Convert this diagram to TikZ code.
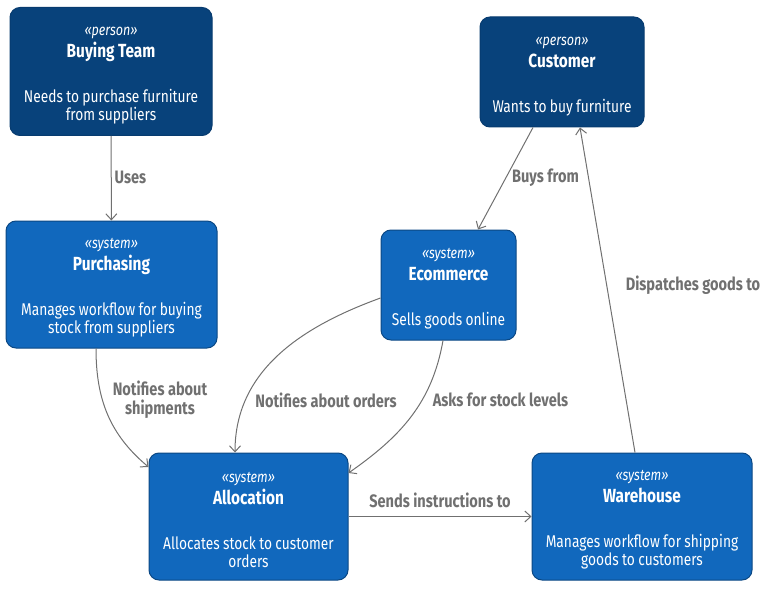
\documentclass[tikz,border=0pt]{standalone}
\usepackage{fontspec}
\setmainfont{Fira Sans}[FakeStretch=0.81]
\usepackage{xcolor}
\usepackage{tikz}
\usetikzlibrary{arrows.meta}

\definecolor{persblue}{HTML}{08427B}
\definecolor{persedge}{HTML}{073B6F}
\definecolor{sysblue}{HTML}{1168BD}
\definecolor{sysedge}{HTML}{0B4884}
\definecolor{relgray}{HTML}{707070}

% stereotype, title, description
\newcommand{\cfourtext}[3]{%
  {\fontsize{15.5}{18}\itshape\selectfont\rule{0pt}{17pt}«#1»\par}%
  {\fontsize{19}{22}\bfseries\selectfont #2\par}%
  \vspace{27pt}%
  {\fontsize{17}{18}\selectfont #3\par}}

\tikzset{
  cbox/.style={rounded corners=10pt, line width=1pt, text=white,
    align=center, inner sep=0pt},
  personbox/.style={cbox, fill=persblue, draw=persedge},
  systembox/.style={cbox, fill=sysblue, draw=sysedge},
  rel/.style={draw=relgray, line width=1pt,
    -{Straight Barb[length=6pt,width=11pt]}},
  rellabel/.style={text=relgray, align=center,
    font=\fontsize{18}{19}\bfseries\selectfont}
}

\begin{document}
\begin{tikzpicture}[x=1pt,y=1pt]
  \useasboundingbox (0,0) rectangle (773,590);

  % people and systems
  \node[personbox, minimum width=202pt, minimum height=128pt, text width=196pt]
    (buy) at (111,518.5)
    {\cfourtext{person}{Buying Team}{Needs to purchase furniture\\from suppliers}};
  \node[personbox, minimum width=164pt, minimum height=110pt, text width=158pt]
    (cust) at (562,518)
    {\cfourtext{person}{Customer}{Wants to buy furniture}};
  \node[systembox, minimum width=211pt, minimum height=127pt, text width=205pt]
    (pur) at (111.5,305.5)
    {\cfourtext{system}{Purchasing}{Manages workflow for buying\\stock from suppliers}};
  \node[systembox, minimum width=135pt, minimum height=110pt, text width=129pt]
    (ecom) at (448.5,305)
    {\cfourtext{system}{Ecommerce}{Sells goods online}};
  \node[systembox, minimum width=199pt, minimum height=127pt, text width=193pt]
    (alloc) at (248.5,73.5)
    {\cfourtext{system}{Allocation}{Allocates stock to customer\\orders}};
  \node[systembox, minimum width=220pt, minimum height=127pt, text width=214pt]
    (ware) at (642,73.5)
    {\cfourtext{system}{Warehouse}{Manages workflow for shipping\\goods to customers}};

  % relations
  \draw[rel] (buy) -- (pur);
  \draw[rel] ([xshift=-29pt]cust.south) -- ([xshift=29.5pt]ecom.north);
  \draw[rel] ([xshift=-7pt]ware.north) -- ([xshift=18pt]cust.south);
  \draw[rel] ([xshift=-15.5pt]pur.south) to[out=-90,in=140] ([yshift=49.5pt]alloc.west);
  \draw[rel] ([yshift=-13pt]ecom.west) to[out=200,in=90] ([xshift=-13.5pt]alloc.north);
  \draw[rel] ([xshift=-5.5pt]ecom.south) to[out=-100,in=35] ([yshift=43.5pt]alloc.east);
  \draw[rel] (alloc) -- (ware);

  % relation labels
  \node[rellabel] (lbluses) at (130.5,413) {Uses};
  \node[rellabel] (lblbuys) at (545.5,412) {Buys from};
  \node[rellabel] (lbldispatch) at (693,305) {Dispatches goods to};
  \node[rellabel] (lblship) at (160,190) {Notifies about\\shipments};
  \node[rellabel] (lblorders) at (326,190) {Notifies about orders};
  \node[rellabel] (lblstock) at (500.5,190) {Asks for stock levels};
  \node[rellabel] (lblsends) at (440,90) {Sends instructions to};
\end{tikzpicture}
\end{document}
